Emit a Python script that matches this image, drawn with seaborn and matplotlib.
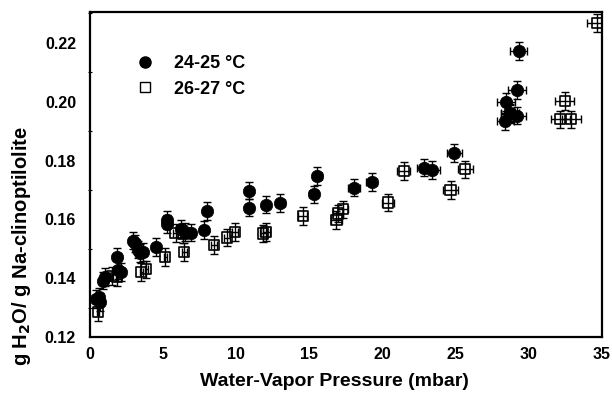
import matplotlib
matplotlib.use("Agg")
import matplotlib.pyplot as plt
import seaborn as sns
import pandas as pd
from matplotlib.lines import Line2D
from matplotlib.ticker import MultipleLocator

# 24-25 °C (filled circles)
x_a = [0.4, 0.65, 0.7, 0.9, 1.05, 1.85, 1.95, 2.1, 2.95, 3.1, 3.25, 3.45, 3.6, 4.5,
       5.25, 5.25, 6.25, 6.5, 6.9, 7.8, 7.97, 10.9, 10.9, 12.0, 13.0, 15.3, 15.55,
       18.05, 19.25, 22.85, 23.4, 24.9, 29.3, 29.2, 28.45, 28.7, 29.2, 28.4]
y_a = [0.1330, 0.1335, 0.1318, 0.1392, 0.1405, 0.1472, 0.1428, 0.1422, 0.1528, 0.1518,
       0.1497, 0.1486, 0.1490, 0.1505, 0.1598, 0.1585, 0.1568, 0.1558, 0.1555, 0.1564,
       0.1628, 0.1698, 0.1640, 0.1650, 0.1656, 0.1685, 0.1748, 0.1708, 0.1726, 0.1776,
       0.1768, 0.1825, 0.2172, 0.2040, 0.2000, 0.1962, 0.1953, 0.1933]
xerr_a = [0.1, 0.1, 0.1, 0.1, 0.1, 0.1, 0.1, 0.1, 0.1, 0.1, 0.1, 0.1, 0.1, 0.1,
          0.15, 0.15, 0.15, 0.15, 0.15, 0.2, 0.2, 0.25, 0.25, 0.25, 0.3, 0.3, 0.3,
          0.4, 0.4, 0.5, 0.5, 0.5, 0.6, 0.6, 0.6, 0.6, 0.6, 0.6]
yerr_a = [0.003, 0.003, 0.003, 0.003, 0.003, 0.003, 0.003, 0.003, 0.003, 0.003,
          0.003, 0.003, 0.003, 0.003, 0.003, 0.003, 0.003, 0.003, 0.003, 0.003,
          0.003, 0.003, 0.003, 0.003, 0.003, 0.003, 0.003, 0.003, 0.003, 0.003,
          0.003, 0.003, 0.003, 0.003, 0.003, 0.003, 0.003, 0.003]

# 26-27 °C (open squares)
x_b = [0.55, 1.5, 1.85, 3.5, 3.85, 5.15, 5.85, 6.35, 6.45, 8.5, 9.35, 9.9, 11.85,
       12.05, 14.55, 16.85, 16.95, 17.3, 20.35, 21.45, 24.65, 25.65, 28.7, 32.45,
       32.15, 32.9, 34.65]
y_b = [0.1284, 0.1408, 0.1405, 0.1422, 0.1430, 0.1472, 0.1553, 0.1550, 0.1488, 0.1512,
       0.1538, 0.1556, 0.1552, 0.1558, 0.1611, 0.1597, 0.1620, 0.1634, 0.1657, 0.1764,
       0.1700, 0.1770, 0.1958, 0.2002, 0.1940, 0.1940, 0.2268]
xerr_b = [0.1, 0.1, 0.1, 0.1, 0.1, 0.1, 0.15, 0.15, 0.15, 0.2, 0.2, 0.2, 0.25,
          0.25, 0.3, 0.35, 0.35, 0.35, 0.4, 0.45, 0.5, 0.5, 0.6, 0.65, 0.65, 0.65, 0.7]
yerr_b = [0.003, 0.003, 0.003, 0.003, 0.003, 0.003, 0.003, 0.003, 0.003, 0.003,
          0.003, 0.003, 0.003, 0.003, 0.003, 0.003, 0.003, 0.003, 0.003, 0.003,
          0.003, 0.003, 0.003, 0.003, 0.003, 0.003, 0.003]

labels = ["24-25 °C", "26-27 °C"]
x_ticks = [0, 5, 10, 15, 20, 25, 30, 35]
y_ticks = [0.12, 0.14, 0.16, 0.18, 0.20, 0.22]

df = pd.concat([
    pd.DataFrame({"x": x_a, "y": y_a, "series": labels[0]}),
    pd.DataFrame({"x": x_b, "y": y_b, "series": labels[1]}),
])

sns.set_theme(style="white")
plt.rcParams["font.family"] = ["Liberation Sans", "DejaVu Sans"]
plt.rcParams["font.weight"] = "bold"
plt.rcParams["text.color"] = "black"
plt.rcParams["axes.labelcolor"] = "black"
plt.rcParams["xtick.color"] = "black"
plt.rcParams["ytick.color"] = "black"

fig = plt.figure(figsize=(6.12, 3.99), dpi=100)
ax = fig.add_axes([0.147, 0.1554, 0.8367, 0.8146])

# error bars
ax.errorbar(x_a, y_a, xerr=xerr_a, yerr=yerr_a, fmt="none", ecolor="black",
            elinewidth=1.0, capsize=3, capthick=1.0, zorder=2)
ax.errorbar(x_b, y_b, xerr=xerr_b, yerr=yerr_b, fmt="none", ecolor="black",
            elinewidth=1.0, capsize=3, capthick=1.0, zorder=2)

# markers
sns.scatterplot(data=df[df.series == labels[0]], x="x", y="y", ax=ax, marker="o",
                s=80, color="black", edgecolor="black", linewidth=0.5, zorder=3,
                legend=False)
sns.scatterplot(data=df[df.series == labels[1]], x="x", y="y", ax=ax, marker="s",
                s=55, facecolor="none", edgecolor="black", linewidth=1.2, zorder=3,
                legend=False)

ax.set_xlim(0, 35)
ax.set_ylim(0.12, 0.2305)
ax.set_xticks(x_ticks)
ax.set_yticks(y_ticks)
ax.set_xticklabels([str(t) for t in x_ticks], fontsize=11.5, fontweight="bold",
                   color="black")
ax.set_yticklabels([f"{t:.2f}" for t in y_ticks], fontsize=11.5, fontweight="bold",
                   color="black")
ax.yaxis.set_minor_locator(MultipleLocator(0.01))
ax.tick_params(axis="x", which="major", direction="out", length=5, width=1.2,
               colors="black", pad=2)
ax.tick_params(axis="y", which="major", direction="out", length=6, width=1.2,
               colors="black", pad=4)
ax.tick_params(axis="y", which="minor", direction="inout", length=3, width=0.8,
               left=True)

for sp in ax.spines.values():
    sp.set_linewidth(1.6)
    sp.set_color("black")
    sp.set_visible(True)

ax.set_xlabel("Water-Vapor Pressure (mbar)", fontsize=14, fontweight="bold",
              color="black")
ax.set_ylabel("g H$_\\mathbf{2}$O/ g Na-clinoptilolite", fontsize=14.5,
              fontweight="bold", color="black")
ax.xaxis.set_label_coords(0.477, -0.11)
ax.yaxis.set_label_coords(-0.112, 0.28)

handles = [
    Line2D([], [], marker="o", linestyle="none", color="black", markersize=8),
    Line2D([], [], marker="s", linestyle="none", markerfacecolor="none",
           markeredgecolor="black", markeredgewidth=1.0, markersize=6.5),
]
ax.legend(handles, labels, loc="upper left", bbox_to_anchor=(0.048, 0.905),
          frameon=False, prop={"weight": "bold", "size": 13},
          handletextpad=0.6, labelspacing=0.45, borderpad=0.2)

fig.savefig("out.png", dpi=100)
